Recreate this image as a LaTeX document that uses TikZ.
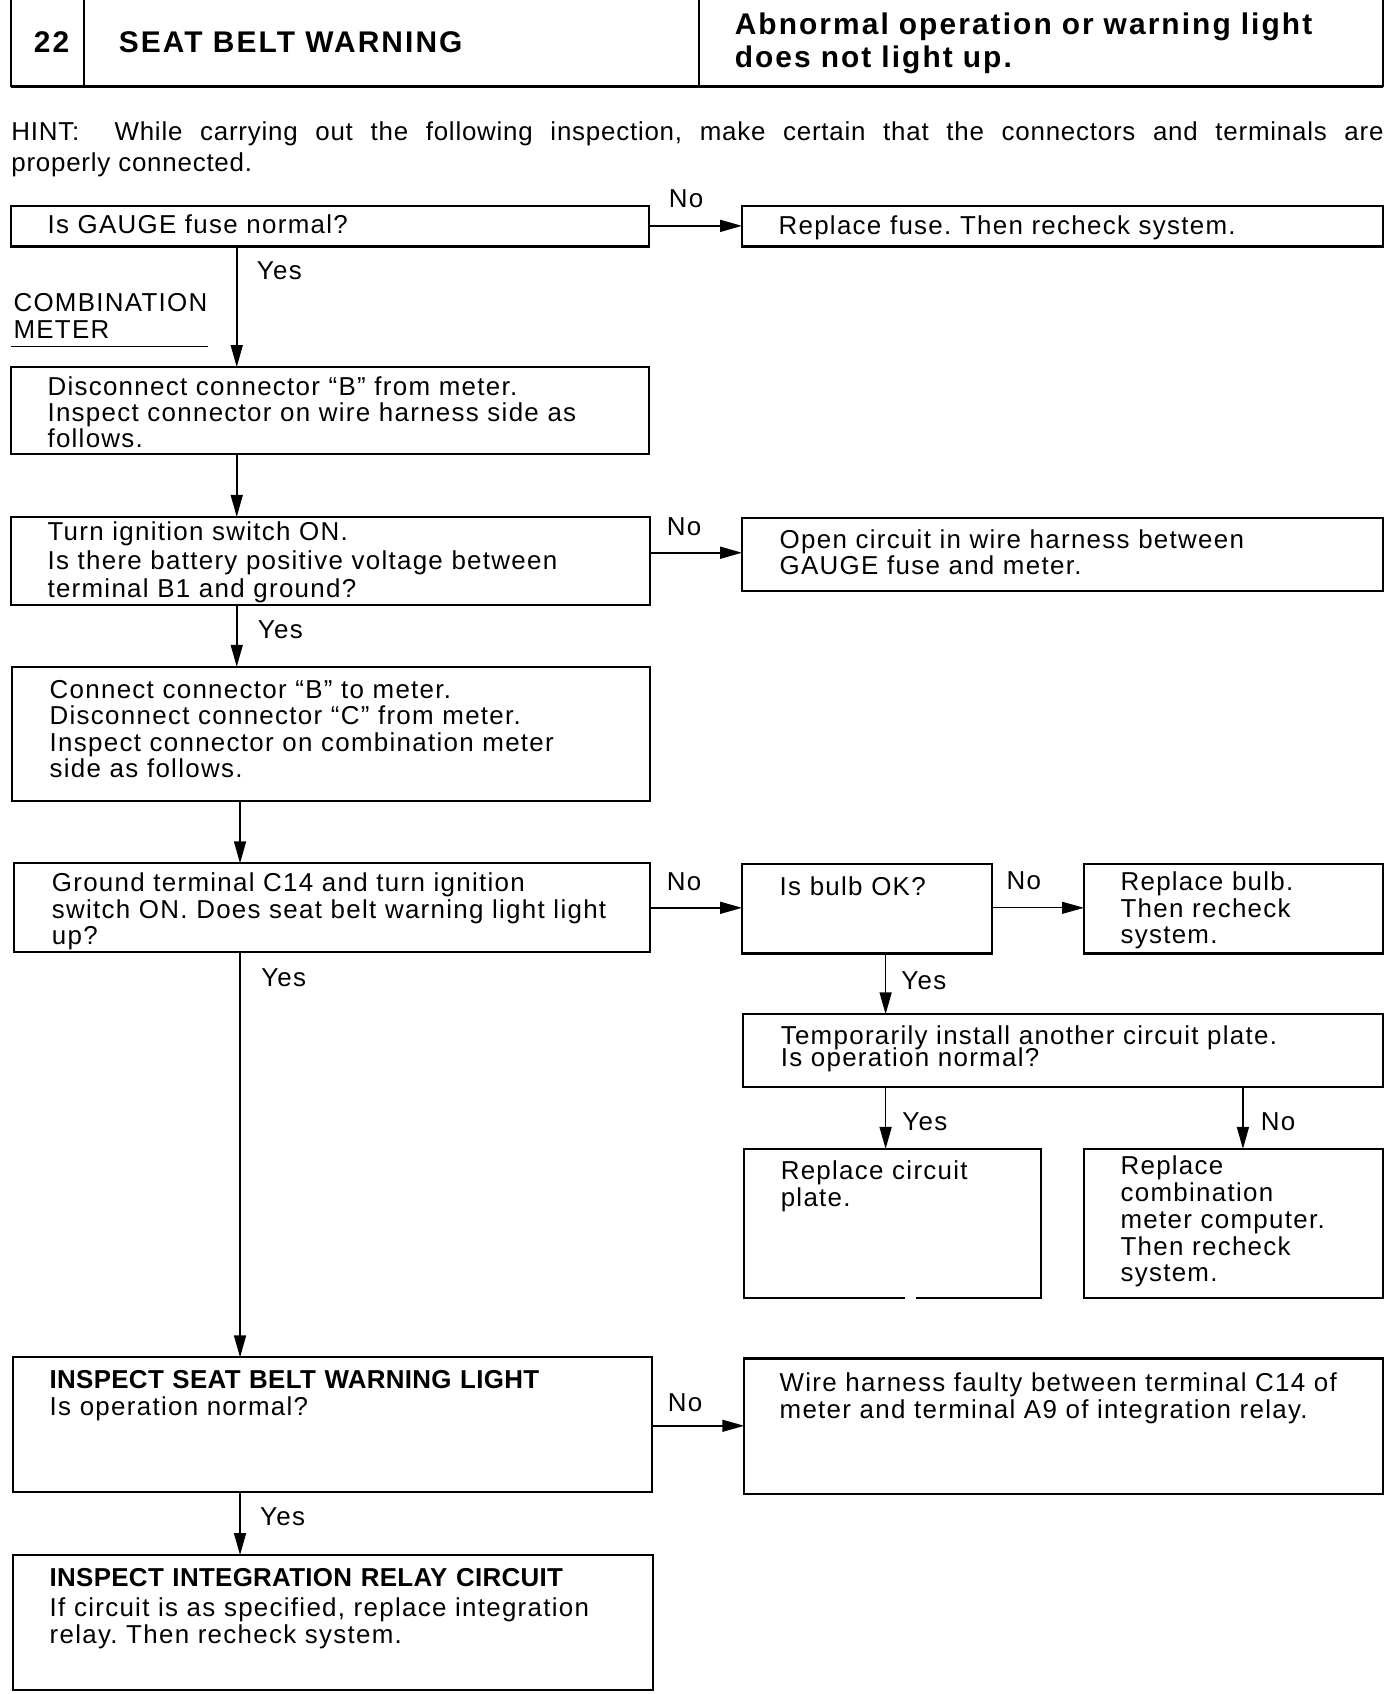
\documentclass[tikz,border=0pt]{standalone}
\usepackage{fontspec}
\setmainfont[LetterSpace=5]{Liberation Sans}
\newfontfamily\hintfont[LetterSpace=3]{Liberation Sans}
\newfontfamily\boldsp[LetterSpace=7,UprightFont=*-Bold,BoldFont=*-Bold]{Liberation Sans}
\newfontfamily\boldbox[LetterSpace=1.2,UprightFont=*-Bold,BoldFont=*-Bold]{Liberation Sans}
\usetikzlibrary{arrows.meta,fit}
\newcommand\tightls{\lineskiplimit=-20pt\relax\frenchspacing}
\newcommand\tf[1]{\fontsize{13pt}{#1pt}\selectfont\tightls}
\newcommand\hf[1]{\boldsp\fontsize{15pt}{#1pt}\selectfont\tightls}
\begin{document}
\begin{tikzpicture}[x=0.55pt,y=-0.5449pt,
  box/.style={draw,line width=1.1pt,inner sep=0pt,outer sep=0pt},
  txt/.style={anchor=base west,inner sep=0pt,align=left,text width=#1},
  txt/.default=600pt,
  lbl/.style={anchor=base west,inner sep=0pt,font=\tf{14}},
  arr/.style={line width=0.8pt,-{Triangle[length=11pt,width=6pt]}},
  hline/.style={line width=1.1pt}]
\useasboundingbox (0,0) rectangle (1270,1560);
% header
\draw[hline] (10,0) -- (10,80);
\draw[hline] (1262,0) -- (1262,80);
\draw[line width=1.6pt] (10,80) -- (1262,80);
\draw[hline] (77,0) -- (77,80);
\draw[hline] (638,0) -- (638,80);
\node[anchor=base,inner sep=0pt,font=\hf{16}] (h22) at (47,48) {22};
\node[anchor=base west,inner sep=0pt,font=\hf{16}] (htitle) at (108,48) {SEAT BELT WARNING};
\node[txt,font=\hf{16.3}] (hcond) at (670,32) {Abnormal operation or warning light\\does not light up.};
% hint
\node[anchor=base west,inner sep=0pt,text width=688.6pt,align=justify,font=\hintfont\tf{15.8}] (hint) at (10,129)
 {HINT:\ \ While carrying out the following inspection, make certain that the connectors and terminals are\linebreak properly connected.};
% boxes
\node[box,fit={(10,190)(592,227)}] (b1) {};
\node[box,fit={(677,190)(1262,227)}] (r1) {};
\node[box,fit={(10,338)(592,418)}] (b2) {};
\node[box,fit={(10,476)(593,557)}] (b3) {};
\node[box,fit={(677,477)(1262,544)}] (r3) {};
\node[box,fit={(11,614)(593,738)}] (b4) {};
\node[box,fit={(13,795)(593,877)}] (b5) {};
\node[box,fit={(677,796)(905,878)}] (b6) {};
\node[box,fit={(989,796)(1262,878)}] (b7) {};
\node[box,fit={(678,934)(1262,1001)}] (b8) {};
\node[box,fit={(679,1058)(950,1195)}] (b9) {};
\node[box,fit={(989,1058)(1262,1195)}] (b10) {};
\node[box,fit={(12,1250)(595,1374)}] (b11) {};
\node[box,fit={(679,1251)(1262,1376)}] (b12) {};
\node[box,fit={(12,1432)(596,1556)}] (b13) {};
\fill[white] (826,1192) rectangle (836,1198);
% texts
\node[txt,font=\tf{13.2}] (t1) at (43,215) {Is GAUGE fuse normal?};
\node[txt,font=\tf{13.2}] (tr1) at (710,216) {Replace fuse. Then recheck system.};
\node[txt,font=\tf{13.7}] (tcm) at (12,287) {COMBINATION\\METER};
\draw[line width=0.5pt] (10,319) -- (190,319);
\node[txt,font=\tf{13.2}] (t2) at (43,364) {Disconnect connector ``B'' from meter.\\Inspect connector on wire harness side as\\follows.};
\node[txt,font=\tf{14.2}] (t3) at (43,498) {Turn ignition switch ON.\\Is there battery positive voltage between\\terminal B1 and ground?};
\node[txt,font=\tf{13.2}] (tr3) at (711,505) {Open circuit in wire harness between\\GAUGE fuse and meter.};
\node[txt,font=\tf{13.3}] (t4) at (45,643) {Connect connector ``B'' to meter.\\Disconnect connector ``C'' from meter.\\Inspect connector on combination meter\\side as follows.};
\node[txt,font=\tf{13.4}] (t5) at (47,821) {Ground terminal C14 and turn ignition\\switch ON. Does seat belt warning light light\\up?};
\node[txt,font=\tf{13.2}] (t6) at (711,825) {Is bulb OK?};
\node[txt,font=\tf{13.4}] (t7) at (1022,820) {Replace bulb.\\Then recheck\\system.};
\node[txt,font=\tf{11}] (t8) at (712,962) {Temporarily install another circuit plate.\\Is operation normal?};
\node[txt,font=\tf{13.6}] (t9) at (712,1086) {Replace circuit\\plate.};
\node[txt,font=\tf{13.4}] (t10) at (1022,1082) {Replace\\combination\\meter computer.\\Then recheck\\system.};
\node[txt,font=\tf{13.6}] (t11) at (45,1279) {{\boldbox INSPECT SEAT BELT WARNING LIGHT}\\Is operation normal?};
\node[txt,font=\tf{13.6}] (t12) at (711,1281) {Wire harness faulty between terminal C14 of\\meter and terminal A9 of integration relay.};
\node[txt,font=\tf{13.2}] (t13) at (45,1461) {{\boldbox INSPECT INTEGRATION RELAY CIRCUIT}\\[2pt]If circuit is as specified, replace integration\\relay. Then recheck system.};
% helper coordinates
\coordinate (x216) at (216,0);
\coordinate (x219) at (219,0);
\coordinate (x808) at (808,0);
\coordinate (x1134) at (1134,0);
\coordinate (y208) at (0,208);
\coordinate (y509) at (0,509);
\coordinate (y836) at (0,836);
\coordinate (y1313) at (0,1313);
% connectors
\draw[arr] (b1.south -| x216) -- (b2.north -| x216);
\draw[arr] (b2.south -| x216) -- (b3.north -| x216);
\draw[arr] (b3.south -| x216) -- (b4.north -| x216);
\draw[arr] (b4.south -| x219) -- (b5.north -| x219);
\draw[arr] (b5.south -| x219) -- (b11.north -| x219);
\draw[arr] (b11.south -| x219) -- (b13.north -| x219);
\draw[arr] (b1.east |- y208) -- (r1.west |- y208);
\draw[arr] (b3.east |- y509) -- (r3.west |- y509);
\draw[arr] (b5.east |- y836) -- (b6.west |- y836);
\draw[arr,line width=0.5pt] (b6.east |- y836) -- (b7.west |- y836);
\draw[arr] (b11.east |- y1313) -- (b12.west |- y1313);
\draw[arr] (b6.south -| x808) -- (b8.north -| x808);
\draw[arr] (b8.south -| x808) -- (b9.north -| x808);
\draw[arr] (b8.south -| x1134) -- (b10.north -| x1134);
% labels
\node[lbl] (n1) at (610,191) {No};
\node[lbl] (y1) at (234,257) {Yes};
\node[lbl] (n2) at (608,493) {No};
\node[lbl] (y2) at (235,588) {Yes};
\node[lbl] (n3) at (608,820) {No};
\node[lbl] (n4) at (918,819) {No};
\node[lbl] (y3) at (822,911) {Yes};
\node[lbl] (y5) at (238,908) {Yes};
\node[lbl] (y4) at (823,1041) {Yes};
\node[lbl] (n5) at (1150,1041) {No};
\node[lbl] (n6) at (609,1300) {No};
\node[lbl] (y6) at (237,1405) {Yes};
\end{tikzpicture}
\end{document}
